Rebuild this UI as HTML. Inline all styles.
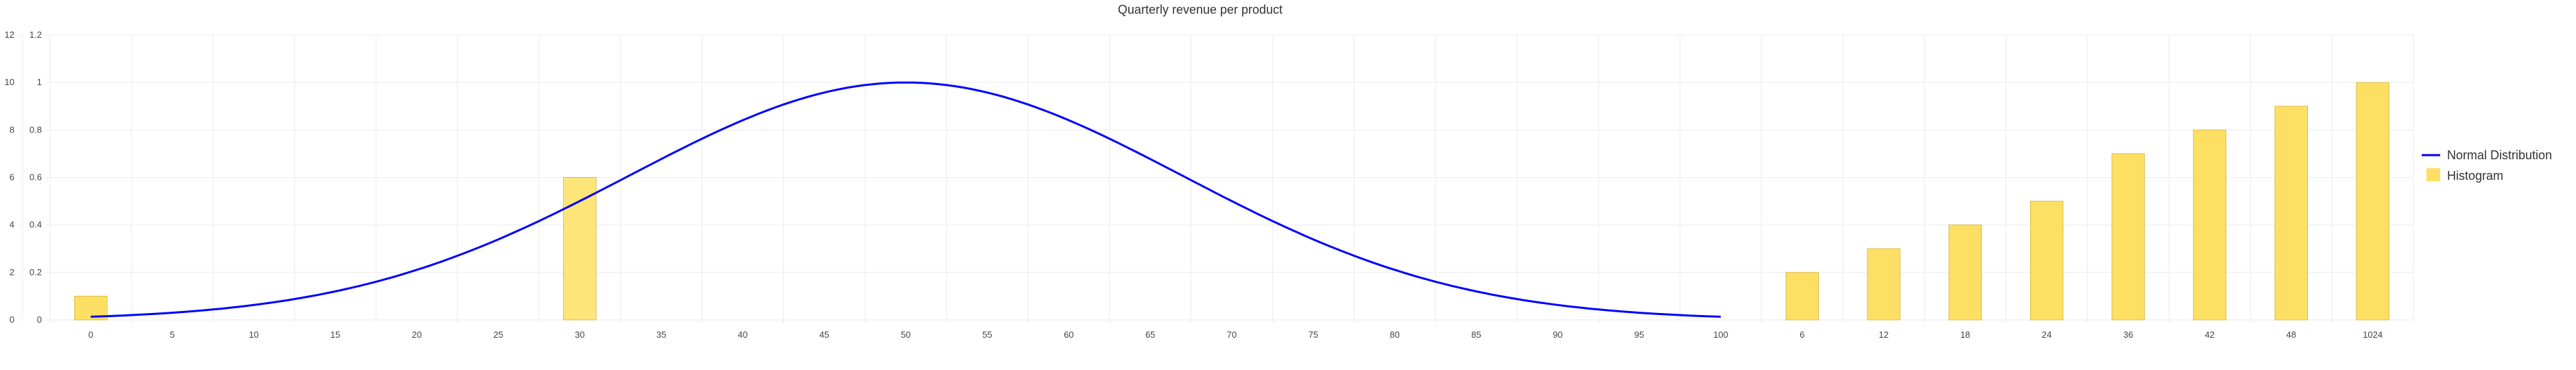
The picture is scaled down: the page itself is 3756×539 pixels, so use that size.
<!DOCTYPE html>
<html><head><meta charset="utf-8"><style>
html,body{margin:0;padding:0;background:#fff;}
svg{display:block;font-family:"Liberation Sans",sans-serif;}
</style></head><body>
<svg id="c" width="3756" height="539" xmlns="http://www.w3.org/2000/svg">
<text x="1750" y="20" font-size="18" fill="#333" text-anchor="middle">Quarterly revenue per product</text>
<g id="g"></g>
<line x1="3531" y1="226" x2="3558" y2="226" stroke="#0000ff" stroke-width="3"/>
<text x="3568" y="232" font-size="18" fill="#333">Normal Distribution</text>
<rect x="3538" y="245" width="20" height="19" fill="#fde063"/>
<text x="3568" y="262" font-size="18" fill="#333">Histogram</text>
</svg>
<script>
var g=document.getElementById('g'),s='';
var L=73,R=3519,T=51,B=466,n=29,w=(R-L)/n;
function y(v){return B-(B-T)*v/1.2;}
for(var i=0;i<=6;i++){var yy=y(i*0.2);
s+='<line x1="'+(L-6)+'" y1="'+yy+'" x2="'+R+'" y2="'+yy+'" stroke="#eee" stroke-width="1.2"/>';
s+='<line x1="28" y1="'+yy+'" x2="34" y2="'+yy+'" stroke="#eee"/>';
s+='<text x="61" y="'+(yy+4)+'" font-size="13" fill="#444" text-anchor="end">'+(+(i*0.2).toFixed(1))+'</text>';
s+='<text x="21" y="'+(yy+4)+'" font-size="13" fill="#444" text-anchor="end">'+(i*2)+'</text>';}
s+='<line x1="33" y1="'+T+'" x2="33" y2="'+B+'" stroke="#eee"/>';
var labs=[];for(i=0;i<=20;i++)labs.push(i*5);labs=labs.concat([6,12,18,24,36,42,48,1024]);
for(i=0;i<=n;i++){var xx=L+i*w;s+='<line x1="'+xx+'" y1="'+T+'" x2="'+xx+'" y2="'+(B+5)+'" stroke="#eee" stroke-width="1.2"/>';}
for(i=0;i<n;i++){s+='<text x="'+(L+(i+.5)*w)+'" y="'+(B+26)+'" font-size="13" fill="#444" text-anchor="middle">'+labs[i]+'</text>';}
var bars={0:0.1,6:0.6,21:0.2,22:0.3,23:0.4,24:0.5,25:0.7,26:0.8,27:0.9,28:1.0};
for(var k in bars){var cx=L+(+k+.5)*w,bw=w*0.4;
s+='<rect x="'+(cx-bw/2)+'" y="'+y(bars[k])+'" width="'+bw+'" height="'+(B-y(bars[k]))+'" fill="'+(k==6?'#fde57a':'#fde063')+'" stroke="#d9bc50" stroke-width="1"/>';}
var pts=[];for(var t=0;t<=100;t+=0.5){var v=Math.exp(-Math.pow(t-50,2)/(2*17*17));pts.push((L+(t/5+.5)*w).toFixed(1)+','+y(v).toFixed(1));}
s+='<polyline points="'+pts.join(' ')+'" fill="none" stroke="#0000ff" stroke-width="3"/>';
g.innerHTML=s;
</script>
</body></html>
